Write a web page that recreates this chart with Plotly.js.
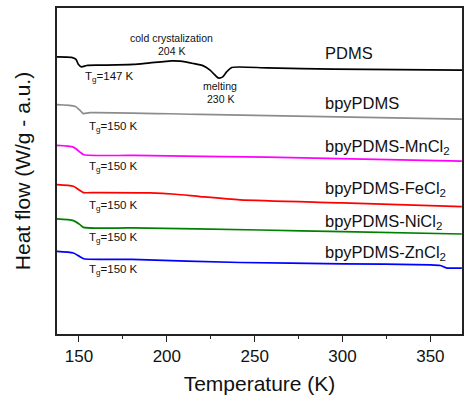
<!DOCTYPE html>
<html>
<head>
<meta charset="utf-8">
<script src="https://cdn.plot.ly/plotly-3.0.1.min.js"></script>
<style>html,body{margin:0;padding:0;background:#fff;}#chart{width:474px;height:404px;}</style>
</head>
<body>
<div id="chart"></div>
<script>
// Temperatures (K) and heat flow (a.u., offset curves)
const pdmsT = [137.5, 145.8, 148.3, 149.6, 151.5, 154.4, 162, 181, 190.4, 202.8, 207.5, 215, 220.8, 224.6, 227.5, 229.3, 231.8, 234, 237, 256.9, 294.8, 368];
const pdmsY = [276.3, 275.7, 273.7, 269, 266.3, 267.7, 268, 268.7, 270.3, 272.3, 272, 269.7, 267.3, 263, 258, 255.3, 256.3, 261.3, 265.7, 265.3, 264, 263];

const bpyT = [137.3, 147.7, 150.6, 152.5, 156.3, 218.9, 367.9];
const bpyY = [228.7, 227, 223, 219.7, 220.7, 219, 214.3];

const mnT = [137.3, 146.8, 150.6, 152.8, 180.9, 256.8, 367.9];
const mnY = [188, 186.3, 181.3, 178.7, 178, 176.3, 172.3];

const feT = [137.3, 146.8, 150.6, 152.5, 160, 190.4, 205, 218.9, 241.7, 300, 367.9];
const feY = [149, 147.3, 143, 141, 141, 140.7, 139.3, 137, 133.7, 130.7, 127];

const niT = [137.3, 146.8, 150.6, 152.5, 180, 253, 300, 367.9];
const niY = [114.7, 113, 109, 106.3, 105.7, 103.7, 102, 99.7];

const znT = [137.3, 146.8, 150.6, 152.8, 180, 241.7, 300, 350, 355.6, 359, 367.9];
const znY = [82.3, 80.7, 77, 75, 74.3, 71.3, 70, 69, 68.3, 66, 65.7];

const seriesNames = ["PDMS", "bpyPDMS", "bpyPDMS-MnCl<sub>2</sub>", "bpyPDMS-FeCl<sub>2</sub>", "bpyPDMS-NiCl<sub>2</sub>", "bpyPDMS-ZnCl<sub>2</sub>"];
const seriesColors = ["#000000", "#8c8c8c", "#ff00ff", "#ff0000", "#008000", "#0000ff"];
const tgLabels = ["T<sub>g</sub>=147 K", "T<sub>g</sub>=150 K", "T<sub>g</sub>=150 K", "T<sub>g</sub>=150 K", "T<sub>g</sub>=150 K", "T<sub>g</sub>=150 K"];

// label anchor positions (data coords)
const nameLabelT = 289;
const nameLabelY = [280.3, 230.3, 186.3, 144.7, 112, 80.7];
const tgLabelT = [152.3, 154.7, 154.7, 154.7, 154.7, 154.7];
const tgLabelY = [256, 206.3, 166.3, 127.3, 95.3, 63.7];

const xs = [pdmsT, bpyT, mnT, feT, niT, znT];
const ys = [pdmsY, bpyY, mnY, feY, niY, znY];

const FONT = "Liberation Sans, Arial, Helvetica, sans-serif";

const traces = xs.map((x, i) => ({
  x: x, y: ys[i], type: "scatter", mode: "lines",
  line: {color: seriesColors[i], width: 1.7, shape: "spline", smoothing: 0.6},
  hoverinfo: "skip", showlegend: false
}));

const annotations = [];
seriesNames.forEach((n, i) => {
  annotations.push({x: nameLabelT, y: nameLabelY[i], xref: "x", yref: "y", text: n,
    showarrow: false, xanchor: "left", yanchor: "middle", font: {family: FONT, size: 16.5, color: "#111"}});
  annotations.push({x: tgLabelT[i], y: tgLabelY[i], xref: "x", yref: "y", text: tgLabels[i],
    showarrow: false, xanchor: "left", yanchor: "middle", font: {family: FONT, size: 11.5, color: "#111"}});
});
annotations.push({x: 202.8, y: 294.7, xref: "x", yref: "y", text: "cold crystalization", showarrow: false,
  xanchor: "center", yanchor: "middle", font: {family: FONT, size: 10.5, color: "#111"}});
annotations.push({x: 202.8, y: 282, xref: "x", yref: "y", text: "204 K", showarrow: false,
  xanchor: "center", yanchor: "middle", font: {family: FONT, size: 10.5, color: "#111"}});
annotations.push({x: 230.3, y: 247, xref: "x", yref: "y", text: "melting", showarrow: false,
  xanchor: "center", yanchor: "middle", font: {family: FONT, size: 10.5, color: "#111"}});
annotations.push({x: 230.3, y: 234, xref: "x", yref: "y", text: "230 K", showarrow: false,
  xanchor: "center", yanchor: "middle", font: {family: FONT, size: 10.5, color: "#111"}});

const layout = {
  width: 474, height: 404,
  margin: {l: 57, r: 12, t: 8, b: 70},
  paper_bgcolor: "#ffffff", plot_bgcolor: "#ffffff",
  font: {family: FONT, color: "#111"},
  xaxis: {
    range: [137.5, 368], tick0: 150, dtick: 50, ticks: "outside", ticklen: 6, tickwidth: 1.3, tickcolor: "#222",
    minor: {dtick: 25, ticks: "outside", ticklen: 3, tickwidth: 1.3, tickcolor: "#222"},
    showline: true, linecolor: "#222", linewidth: 1.8, mirror: true, showgrid: false, zeroline: false,
    tickfont: {family: FONT, size: 17, color: "#111"},
    title: {text: "Temperature (K)", font: {family: FONT, size: 21, color: "#111"}, standoff: 11}
  },
  yaxis: {
    range: [0, 325], showticklabels: false, ticks: "", showline: true, linecolor: "#222", linewidth: 1.8,
    mirror: true, showgrid: false, zeroline: false,
    title: {text: "Heat flow (W/g - a.u.)", font: {family: FONT, size: 21, color: "#111"}, standoff: 19}
  },
  annotations: annotations
};

Plotly.newPlot("chart", traces, layout, {displayModeBar: false});
</script>
</body>
</html>
